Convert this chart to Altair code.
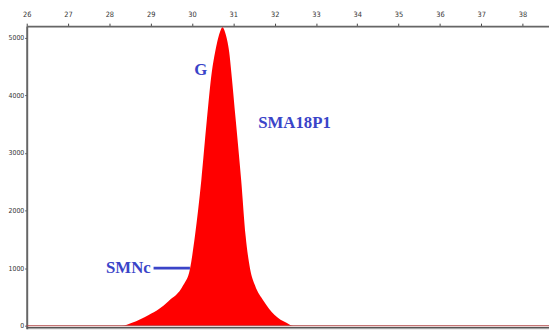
import altair as alt
import pandas as pd

# peak trace (minutes, signal)
trace_x = [26.0, 28.3, 28.548, 28.952, 29.2, 29.43, 29.786, 29.952, 30.071, 30.226,
           30.357, 30.48, 30.56, 30.61, 30.675, 30.738, 30.80, 30.86, 30.90, 30.95,
           31.06, 31.19, 31.298, 31.405, 31.524, 31.738, 32.0, 32.286, 32.45, 38.64]
trace_y = [0, 0, 51, 188, 290, 427, 701, 991, 1556, 2530,
           3556, 4410, 4752, 4923, 5094, 5180, 5094, 4923, 4752, 4410,
           3556, 2530, 1556, 991, 701, 427, 188, 51, 0, 0]

x_ticks = [26 + 0.5 * i for i in range(26)]
y_ticks = [500 * i for i in range(11)]

label_text = ["G", "SMA18P1", "SMNc"]
label_x = [30.21, 32.48, 28.46]
label_y = [4444, 3521, 1008]

marker_x = [29.07]
marker_x2 = [29.95]
marker_y = [1000]

X_DOM = [26, 38.64]
Y_DOM = [-50, 5200]

df = pd.DataFrame({"x": trace_x, "y": trace_y})
labels = pd.DataFrame({"t": label_text, "x": label_x, "y": label_y})
marker = pd.DataFrame({"x": marker_x, "x2": marker_x2, "y": marker_y})
base0 = pd.DataFrame({"x": [X_DOM[0]], "x2": [X_DOM[1]], "y": [0]})

FONT = "Liberation Sans Narrow, DejaVu Sans Condensed, Liberation Sans"

xs = alt.Scale(domain=X_DOM, nice=False, zero=False)
ys = alt.Scale(domain=Y_DOM, nice=False, zero=False)

area = alt.Chart(df).mark_area(color="#ff0000", interpolate="monotone").encode(
    x=alt.X("x:Q", scale=xs, axis=alt.Axis(
        orient="top", values=x_ticks, title=None, grid=False,
        labelExpr="datum.value % 1 == 0 ? datum.value : ''",
        labelFont=FONT, labelFontSize=7.5, labelColor="#333333", labelPadding=5,
        tickSize=3, tickColor="#444444", domainColor="#666666", domainWidth=2,
        labelFlush=False, labelOverlap=False)),
    y=alt.Y("y:Q", scale=ys, axis=alt.Axis(
        values=y_ticks, title=None, grid=False,
        labelExpr="datum.value % 1000 == 0 ? datum.value : ''",
        labelFont=FONT, labelFontSize=7, labelColor="#333333", labelPadding=1,
        tickSize=2, tickColor="#444444", domainColor="#666666", domainWidth=2,
        labelFlush=False, labelOverlap=False)),
)

baseline = alt.Chart(base0).mark_rule(color="#b04848", strokeWidth=1.2).encode(
    x=alt.X("x:Q", scale=xs), x2="x2:Q", y=alt.Y("y:Q", scale=ys))

bottom = alt.Chart(base0).mark_rule(color="#555555", strokeWidth=1.5).encode(
    x=alt.value(0), x2=alt.value(530), y=alt.value(306))

mk = alt.Chart(marker).mark_rule(color="#3a44c8", strokeWidth=3).encode(
    x=alt.X("x:Q", scale=xs), x2="x2:Q", y=alt.Y("y:Q", scale=ys))

txt = alt.Chart(labels).mark_text(
    font="Liberation Serif", fontWeight="bold", fontSize=17, color="#3a44c8"
).encode(x=alt.X("x:Q", scale=xs), y=alt.Y("y:Q", scale=ys), text="t:N")

chart = alt.layer(area, baseline, bottom, mk, txt).properties(
    width=530, height=307,
    autosize=alt.AutoSizeParams(type="none"),
    padding={"left": 19, "top": 16, "right": 0, "bottom": 0},
).configure_view(stroke=None).configure(background="white")

chart.save("out.html", embed_options={"renderer": "svg", "actions": False})
